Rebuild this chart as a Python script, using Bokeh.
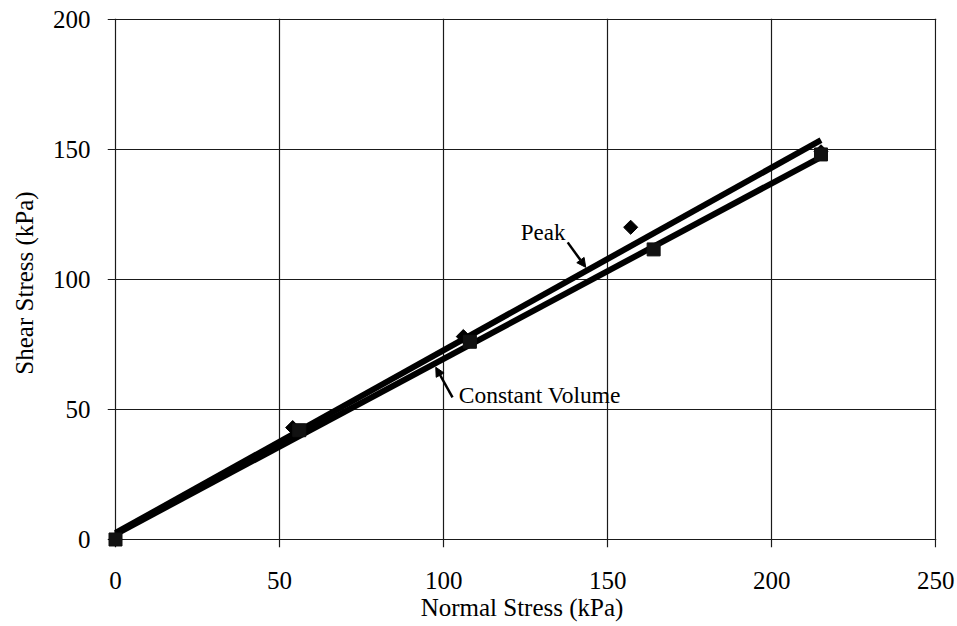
from bokeh.plotting import figure
from bokeh.models import Range1d, FixedTicker, Arrow, NormalHead, Label
from bokeh.embed import file_html
from bokeh.resources import INLINE
import math

# Direct shear test results
peak_x = [0, 54, 106, 157, 215]
peak_y = [0, 43, 78, 120, 149]
cv_x = [0, 56, 108, 164, 215]
cv_y = [0, 42, 76, 111.5, 148]

# Failure envelopes (fitted lines)
peak_fit_x = [0, 215]
peak_fit_y = [2.5, 153.5]
cv_fit_x = [0, 215]
cv_fit_y = [2.0, 147.0]

x_ticks = [0, 50, 100, 150, 200, 250]
y_ticks = [0, 50, 100, 150, 200]

FONT = "Liberation Serif"
INK = "#1a1a1a"

# The ranges start a little below zero so that the grid lines at zero
# overshoot the axes like tick marks and the origin markers are not cut.
p = figure(width=957, height=626, output_backend="svg", toolbar_location=None,
           x_range=Range1d(-2.44, 250.2), y_range=Range1d(-3.08, 200.25),
           min_border_left=107, min_border_right=21, min_border_top=18, min_border_bottom=79)

p.background_fill_color = "white"
p.border_fill_color = "white"
p.outline_line_color = None

for ax in (p.xaxis[0], p.yaxis[0]):
    ax.axis_line_color = None
    ax.major_tick_line_color = None
    ax.major_tick_in = 0
    ax.major_tick_out = 0
    ax.minor_tick_line_color = None
    ax.major_label_text_font = FONT
    ax.major_label_text_font_size = "25px"
    ax.major_label_text_color = "black"
    ax.axis_label_text_font = FONT
    ax.axis_label_text_font_size = "25px"
    ax.axis_label_text_font_style = "normal"
    ax.axis_label_text_color = "black"

p.xaxis[0].ticker = FixedTicker(ticks=x_ticks)
p.yaxis[0].ticker = FixedTicker(ticks=y_ticks)
p.xaxis[0].axis_label = "Normal Stress (kPa)"
p.yaxis[0].axis_label = "Shear Stress (kPa)"
p.xaxis[0].major_label_standoff = 24
p.yaxis[0].major_label_standoff = 17
p.xaxis[0].axis_label_standoff = 2
p.yaxis[0].axis_label_standoff = 12

p.xgrid[0].ticker = FixedTicker(ticks=x_ticks)
p.ygrid[0].ticker = FixedTicker(ticks=y_ticks)
p.xgrid.grid_line_color = INK
p.ygrid.grid_line_color = INK
p.xgrid.grid_line_width = 1.2
p.ygrid.grid_line_width = 1.2

# envelopes
p.line(peak_fit_x, peak_fit_y, line_color="black", line_width=6)
p.line(cv_fit_x, cv_fit_y, line_color="black", line_width=6)

# test points
p.scatter(peak_x, peak_y, marker="square", angle=math.pi / 4, size=10,
          fill_color="black", line_color="black")
p.scatter(cv_x, cv_y, marker="square", size=13, fill_color="#111111", line_color="#111111")

# annotations
p.add_layout(Label(x=123.5, y=113, text="Peak", text_font=FONT, text_font_size="23px",
                   text_color="black"))
p.add_layout(Arrow(x_start=137.8, y_start=114.2, x_end=143.3, y_end=104.6,
                   line_width=2.5, line_color="black",
                   end=NormalHead(size=9, fill_color="black", line_color="black")))
p.add_layout(Label(x=104.6, y=50.4, text="Constant Volume", text_font=FONT,
                   text_font_size="23.5px", text_color="black"))
p.add_layout(Arrow(x_start=102.7, y_start=54.6, x_end=97.6, y_end=66.2,
                   line_width=2.5, line_color="black",
                   end=NormalHead(size=9, fill_color="black", line_color="black")))

open("out.html", "w").write(file_html(p, INLINE))
